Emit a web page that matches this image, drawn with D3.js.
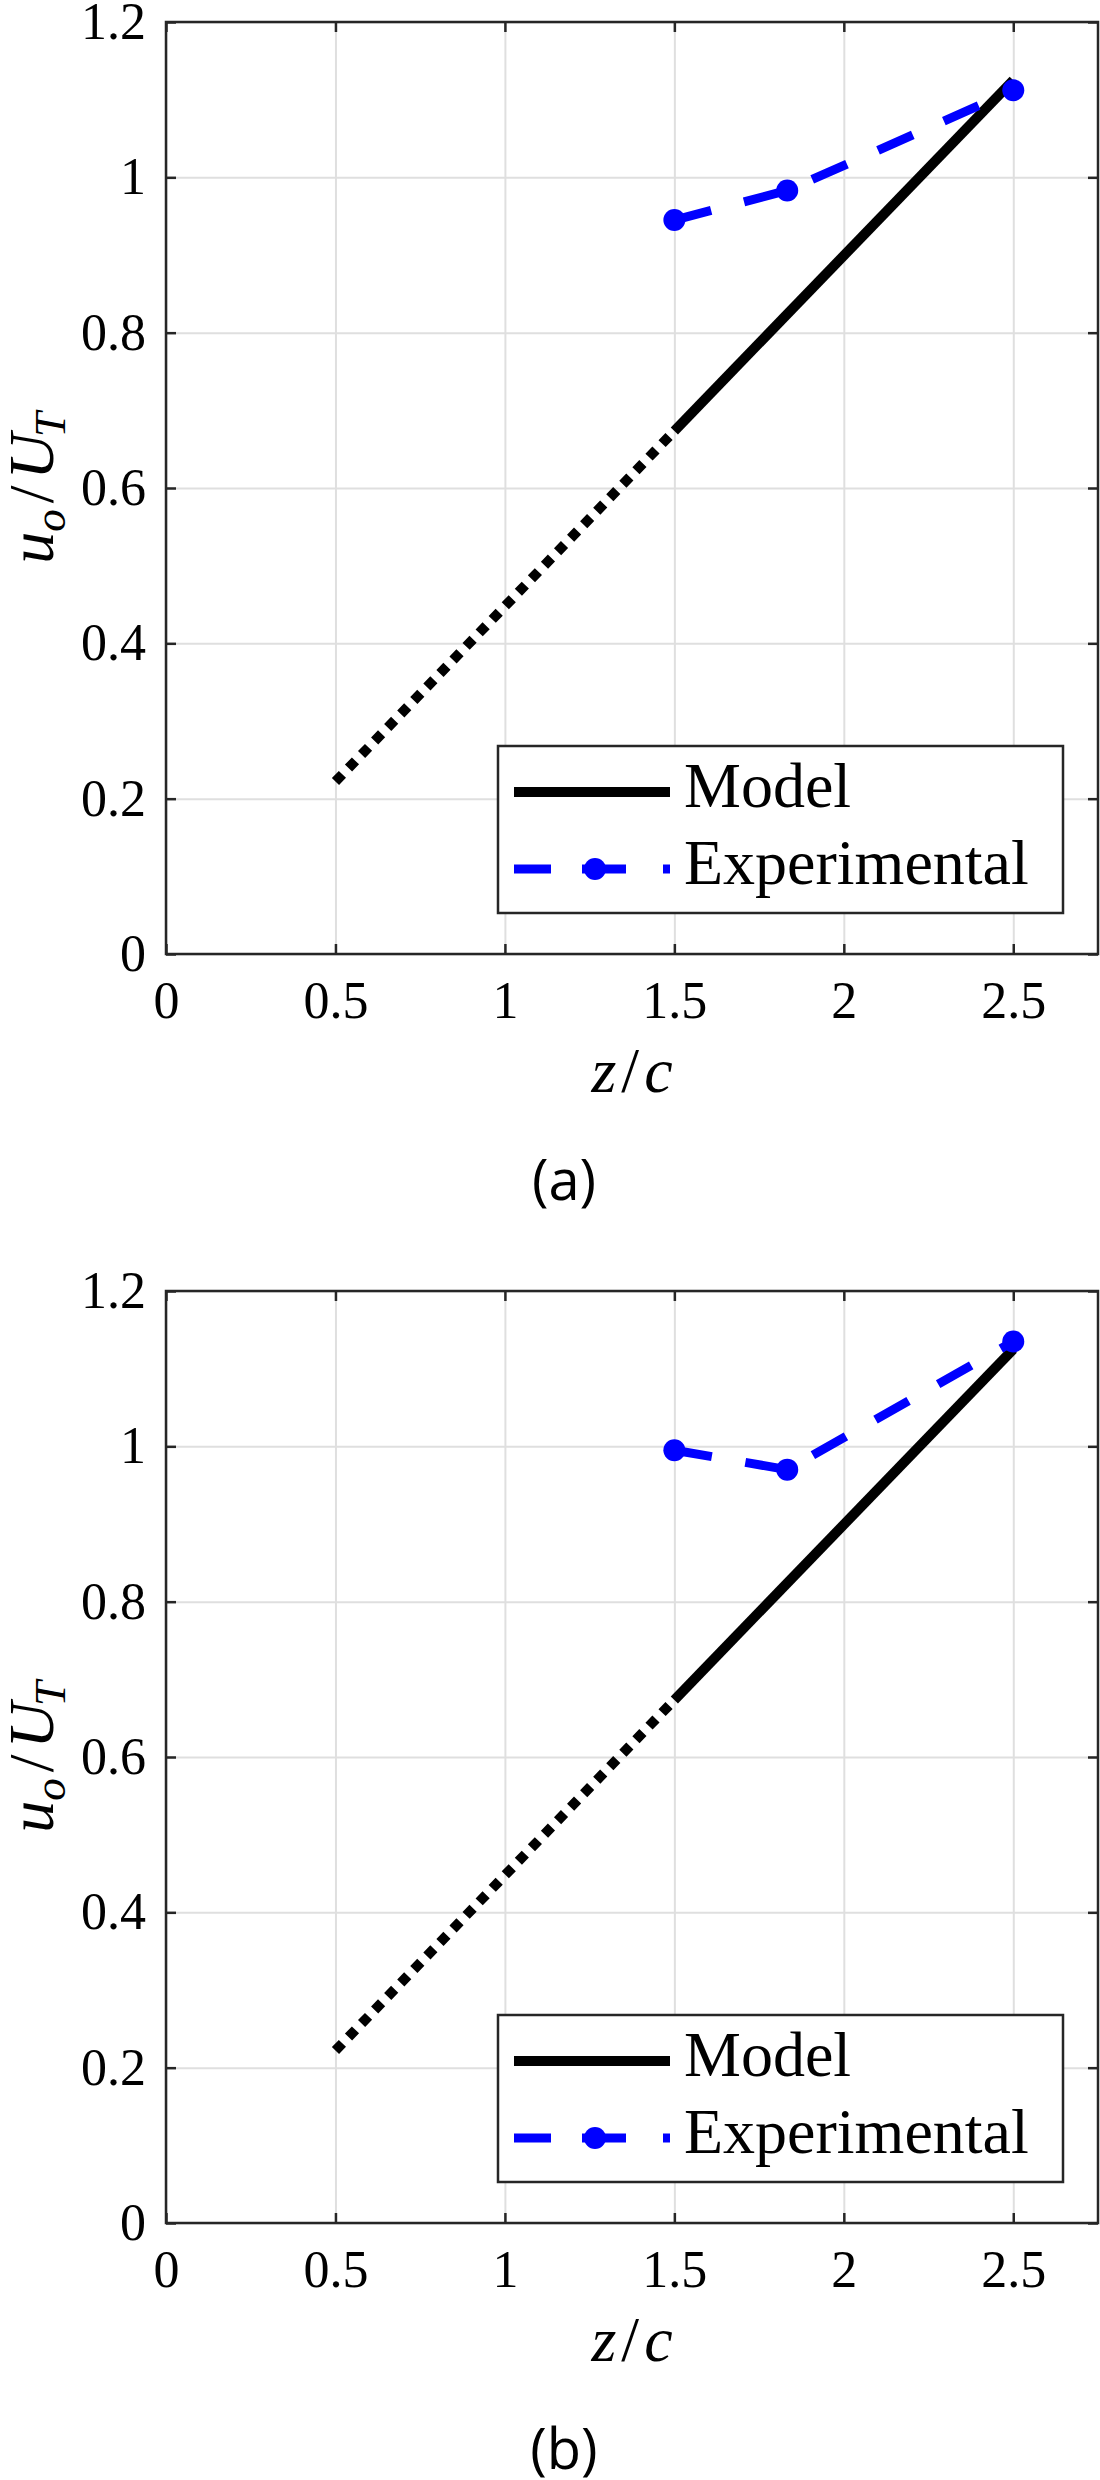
<!DOCTYPE html>
<html>
<head>
<meta charset="utf-8">
<script src="https://cdn.jsdelivr.net/npm/d3@7"></script>
<style>
  body { margin: 0; background: #fff; }
  text { fill: #000; }
  .tick text { font-family: "Liberation Serif", serif; }
</style>
</head>
<body>
<svg id="fig" width="1100" height="2480"></svg>
<script>
// axis ticks
const zTicks = [0, 0.5, 1, 1.5, 2, 2.5];
const uTicks = [0, 0.2, 0.4, 0.6, 0.8, 1, 1.2];

// model: dotted extrapolation + solid part
const extrapZ = [0.5, 1.5];
const extrapU = [0.222, 0.6735];
const modelZ = [1.5, 2.5];
const modelU = [0.6735, 1.125];

// experimental points
const expZ = [1.5, 1.833, 2.5];
const expUa = [0.945, 0.983, 1.112];
const expUb = [0.995, 0.970, 1.135];

const panelLabels = ["(a)", "(b)"];
const legendNames = ["Model", "Experimental"];

const svg = d3.select("#fig");
const serif = "Liberation Serif";
const W = 932, H = 932;
const axisColor = "#262626";
const gridColor = "#dfdfdf";

const x = d3.scaleLinear().domain([0, 2.75]).range([0, W]);
const y = d3.scaleLinear().domain([0, 1.2]).range([H, 0]);
const fmt = d => String(d);

const line = d3.line()
    .x(d => x(d[0]))
    .y(d => y(d[1]));

function drawPanel(top, expU, label) {
    const g = svg.append("g").attr("transform", `translate(166,${top})`);

    // grid
    g.append("g")
        .attr("transform", `translate(0,${H})`)
        .call(d3.axisBottom(x).tickValues(zTicks).tickSize(-H).tickFormat(""))
        .call(a => a.select(".domain").remove())
        .selectAll("line").attr("stroke", gridColor).attr("stroke-width", 2);
    g.append("g")
        .call(d3.axisLeft(y).tickValues(uTicks).tickSize(-W).tickFormat(""))
        .call(a => a.select(".domain").remove())
        .selectAll("line").attr("stroke", gridColor).attr("stroke-width", 2);

    // model, dotted part
    g.append("path")
        .datum(d3.zip(extrapZ, extrapU))
        .attr("fill", "none")
        .attr("stroke", "#000")
        .attr("stroke-width", 10)
        .attr("stroke-dasharray", "10,8.8")
        .attr("d", line);

    // model, solid part
    g.append("path")
        .datum(d3.zip(modelZ, modelU))
        .attr("fill", "none")
        .attr("stroke", "#000")
        .attr("stroke-width", 10)
        .attr("d", line);

    // experimental
    const expData = d3.zip(expZ, expU);
    g.append("path")
        .datum(expData)
        .attr("fill", "none")
        .attr("stroke", "#0000ff")
        .attr("stroke-width", 9)
        .attr("stroke-dasharray", "38,34")
        .attr("d", line);
    g.selectAll(".pt")
        .data(expData)
        .join("circle")
        .attr("class", "pt")
        .attr("cx", d => x(d[0]))
        .attr("cy", d => y(d[1]))
        .attr("r", 11)
        .attr("fill", "#0000ff");

    // axes with inward ticks
    const bottom = g.append("g")
        .attr("transform", `translate(0,${H})`)
        .call(d3.axisBottom(x).tickValues(zTicks).tickFormat(fmt).tickSize(-10).tickPadding(27));
    const left = g.append("g")
        .call(d3.axisLeft(y).tickValues(uTicks).tickFormat(fmt).tickSize(-10).tickPadding(20));
    const topAx = g.append("g")
        .call(d3.axisTop(x).tickValues(zTicks).tickSize(-10).tickFormat(""));
    const rightAx = g.append("g")
        .attr("transform", `translate(${W},0)`)
        .call(d3.axisRight(y).tickValues(uTicks).tickSize(-10).tickFormat(""));

    [bottom, left, topAx, rightAx].forEach(a => {
        a.attr("font-family", serif).attr("font-size", 52);
        a.select(".domain").remove();
        a.selectAll("line").attr("stroke", axisColor).attr("stroke-width", 2.5);
        a.selectAll("text")
            .attr("fill", "#000")
            .style("font-family", "Liberation Serif, serif")
            .style("font-size", "52px");
    });

    g.append("rect")
        .attr("x", 0).attr("y", 0)
        .attr("width", W).attr("height", H)
        .attr("fill", "none")
        .attr("stroke", axisColor)
        .attr("stroke-width", 2.5);

    // axis labels
    const xl = g.append("text")
        .attr("x", W / 2)
        .attr("y", H + 138)
        .attr("text-anchor", "middle")
        .attr("font-family", serif)
        .attr("font-size", 64);
    xl.append("tspan").attr("font-style", "italic").text("z");
    xl.append("tspan").attr("dx", 5).text("/");
    xl.append("tspan").attr("dx", 5).attr("font-style", "italic").text("c");

    const yl = g.append("text")
        .attr("transform", `translate(-113,${H / 2}) rotate(-90)`)
        .attr("text-anchor", "middle")
        .attr("font-family", serif)
        .attr("font-size", 64);
    yl.append("tspan").attr("font-style", "italic").text("u");
    yl.append("tspan").attr("font-style", "italic").attr("font-size", 45)
        .attr("dy", 12).text("o");
    yl.append("tspan").attr("dy", -12).attr("dx", 6).text("/");
    yl.append("tspan").attr("dx", 6).attr("font-style", "italic").text("U");
    yl.append("tspan").attr("font-style", "italic").attr("font-size", 45)
        .attr("dy", 12).attr("dx", -4).text("T");

    // legend
    const lg = g.append("g").attr("transform", "translate(332,724)");
    lg.append("rect")
        .attr("width", 565).attr("height", 167)
        .attr("fill", "#fff")
        .attr("stroke", axisColor)
        .attr("stroke-width", 2.5);
    lg.append("line")
        .attr("x1", 16).attr("x2", 172)
        .attr("y1", 46).attr("y2", 46)
        .attr("stroke", "#000").attr("stroke-width", 10);
    lg.append("line")
        .attr("x1", 16).attr("x2", 172)
        .attr("y1", 123).attr("y2", 123)
        .attr("stroke", "#0000ff").attr("stroke-width", 9)
        .attr("stroke-dasharray", "37,31,44,37");
    lg.append("circle")
        .attr("cx", 97).attr("cy", 123).attr("r", 11)
        .attr("fill", "#0000ff");
    lg.selectAll(".lt")
        .data(legendNames)
        .join("text")
        .attr("class", "lt")
        .attr("x", 186)
        .attr("y", (d, i) => 61 + i * 77)
        .attr("font-family", serif)
        .attr("font-size", 64)
        .text(d => d);

    // panel label
    g.append("text")
        .attr("x", 398)
        .attr("y", H + 246)
        .attr("text-anchor", "middle")
        .attr("font-family", "Open Sans")
        .attr("font-size", 56)
        .text(label);
}

drawPanel(22, expUa, panelLabels[0]);
drawPanel(1291, expUb, panelLabels[1]);
</script>
</body>
</html>
